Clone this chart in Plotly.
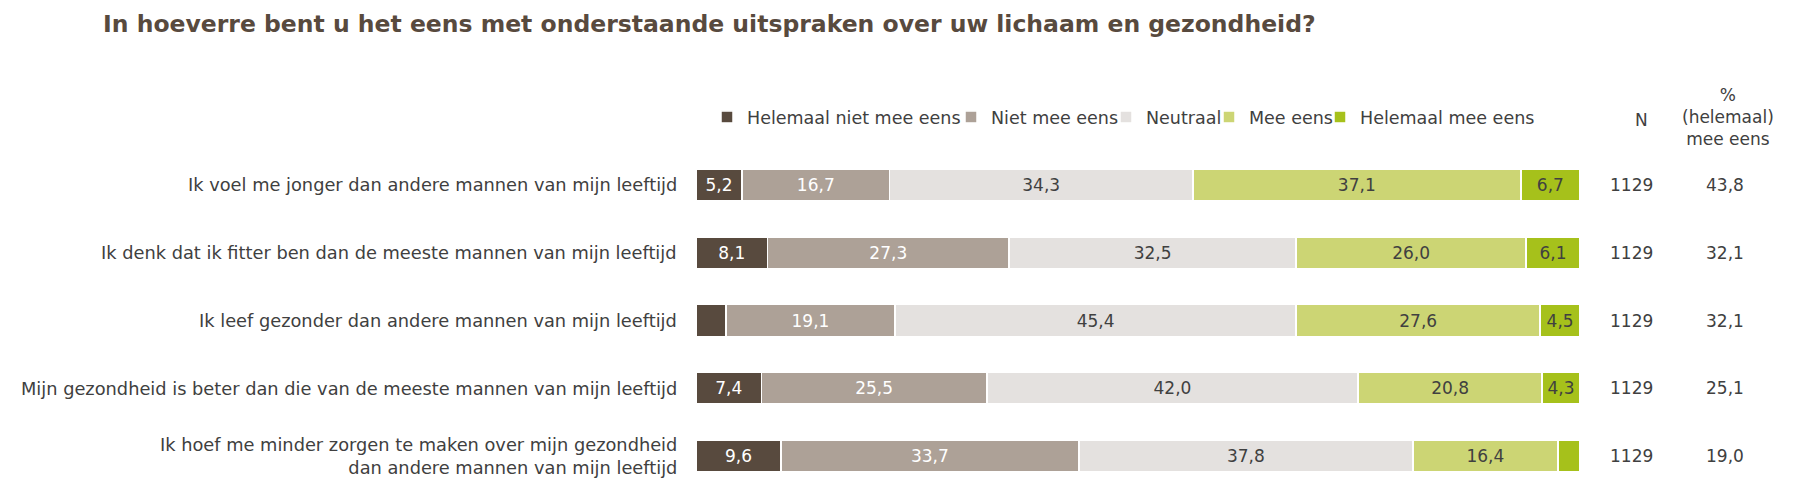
import plotly.graph_objects as go

statements = [
    "Ik voel me jonger dan andere mannen van mijn leeftijd",
    "Ik denk dat ik fitter ben dan de meeste mannen van mijn leeftijd",
    "Ik leef gezonder dan andere mannen van mijn leeftijd",
    "Mijn gezondheid is beter dan die van de meeste mannen van mijn leeftijd",
    "Ik hoef me minder zorgen te maken over mijn gezondheid<br>dan andere mannen van mijn leeftijd",
]
series_names = ["Helemaal niet mee eens", "Niet mee eens", "Neutraal", "Mee eens", "Helemaal mee eens"]
helemaal_niet = [5.2, 8.1, 3.4, 7.4, 9.6]
niet = [16.7, 27.3, 19.1, 25.5, 33.7]
neutraal = [34.3, 32.5, 45.4, 42.0, 37.8]
mee = [37.1, 26.0, 27.6, 20.8, 16.4]
helemaal_mee = [6.7, 6.1, 4.5, 4.3, 2.5]
n_values = [1129, 1129, 1129, 1129, 1129]
pct_mee_eens = [43.8, 32.1, 32.1, 25.1, 19.0]

colors = ["#584a3e", "#ada197", "#e4e1df", "#ccd574", "#a6c11b"]
text_colors = ["#ffffff", "#ffffff", "#404040", "#404040", "#404040"]
# horizontal position (px, container) of each legend entry
legend_x_px = [699, 943, 1098, 1201, 1312]

FONT = "DejaVu Sans"
TXT = "#404040"


def fmt(v):
    return f"{v:.1f}".replace(".", ",")


fig = go.Figure()
legend_ids = ["legend", "legend2", "legend3", "legend4", "legend5"]
for name, vals, col, tcol, lid in zip(series_names, [helemaal_niet, niet, neutraal, mee, helemaal_mee],
                                      colors, text_colors, legend_ids):
    fig.add_trace(go.Bar(
        y=list(range(len(statements))),
        x=vals,
        name=name,
        orientation="h",
        legend=lid,
        marker=dict(color=col, line=dict(color="#ffffff", width=1.5)),
        text=[fmt(v) if v >= 4 else "" for v in vals],
        textposition="inside",
        insidetextanchor="middle",
        textangle=0,
        constraintext="none",
        textfont=dict(family=FONT, size=17, color=tcol),
        hoverinfo="skip",
    ))

N_X = 1.0588
PCT_X = 1.164
for i, s in enumerate(statements):
    fig.add_annotation(x=0, y=i, xref="paper", yref="y", text=s, showarrow=False,
                       xanchor="right", yanchor="middle", align="right", xshift=-17,
                       font=dict(family=FONT, size=17.8, color=TXT))
    fig.add_annotation(x=N_X, y=i, xref="paper", yref="y", text=str(n_values[i]), showarrow=False,
                       xanchor="center", yanchor="middle",
                       font=dict(family=FONT, size=17, color=TXT))
    fig.add_annotation(x=PCT_X, y=i, xref="paper", yref="y", text=fmt(pct_mee_eens[i]), showarrow=False,
                       xanchor="center", yanchor="middle",
                       font=dict(family=FONT, size=17, color=TXT))

fig.add_annotation(x=1.070, y=1.091, xref="paper", yref="paper", text="N", showarrow=False,
                   xanchor="center", yanchor="middle", font=dict(family=FONT, size=17, color=TXT))
fig.add_annotation(x=1.167, y=1.1015, xref="paper", yref="paper", text="%<br>(helemaal)<br>mee eens",
                   showarrow=False, xanchor="center", yanchor="middle", align="center",
                   font=dict(family=FONT, size=17, color=TXT))

legend_common = dict(orientation="h", xanchor="left", xref="container", yref="container",
                     y=0.782, yanchor="middle", itemwidth=30, bgcolor="rgba(0,0,0,0)",
                     font=dict(family=FONT, size=17.5, color=TXT),
                     itemclick=False, itemdoubleclick=False)
legends = {}
for lid, px in zip(legend_ids, legend_x_px):
    legends[lid] = dict(legend_common, x=px / 1800)

fig.update_layout(
    width=1800, height=500,
    margin=dict(l=688, r=228, t=143, b=18),
    barmode="stack",
    bargap=0.53,
    plot_bgcolor="#ffffff",
    paper_bgcolor="#ffffff",
    title=dict(text="<b>In hoeverre bent u het eens met onderstaande uitspraken over uw lichaam en gezondheid?</b>",
               x=95 / 1800, xanchor="left", xref="container", y=0.968, yanchor="middle", yref="container",
               font=dict(family=FONT, size=23.5, color="#584a3e")),
    xaxis=dict(range=[0, 100], visible=False, fixedrange=True),
    yaxis=dict(range=[4.5, -0.5], visible=False, fixedrange=True),
    showlegend=True,
    **legends,
)

fig.write_html("out.html")
